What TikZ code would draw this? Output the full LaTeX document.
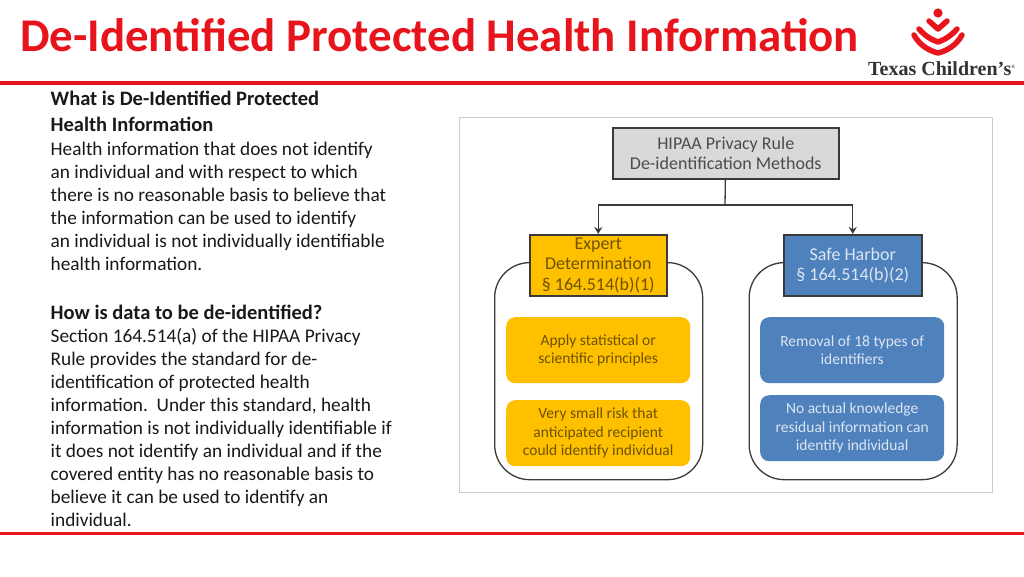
\documentclass[tikz,border=0pt]{standalone}
\usepackage{fontspec}
\setmainfont{Carlito}
\newfontfamily\logofont{Liberation Serif}
\usetikzlibrary{arrows.meta}
\definecolor{hred}{HTML}{E8141C}
\definecolor{hyellow}{HTML}{FFC000}
\definecolor{hblue}{HTML}{4F81BD}
\definecolor{hgrey}{HTML}{D9D9D9}
\definecolor{hline}{HTML}{3A3A3A}
\definecolor{yellowtext}{HTML}{6E5200}
\definecolor{bluetext}{HTML}{DCE6F2}
\newcommand{\headtext}[1]{{\fontsize{20.5}{23}\selectfont\bfseries #1}}
\begin{document}
\begin{tikzpicture}[x=1pt,y=-1pt,
	rule/.style={draw=hred, line width=3.5pt},
	copy/.style={anchor=north west, align=left, inner sep=0pt, font=\fontsize{19.3}{23}\selectfont, text=black!90},
	head/.style={draw=hline, line width=1.5pt, align=center, font=\fontsize{18}{20.5}\selectfont},
	pod/.style={draw=hline, line width=1.3pt, rounded corners=35pt, fill=white, minimum width=208pt, minimum height=217pt, anchor=north west, inner sep=0pt},
	ybox/.style={fill=hyellow, text=yellowtext, rounded corners=9pt, minimum width=184pt, minimum height=66pt, anchor=north west, align=center, inner sep=0pt, font=\fontsize{15.5}{18.5}\selectfont, execute at begin node=\rule{0pt}{15.5pt}},
	bbox/.style={ybox, fill=hblue, text=bluetext},
	conn/.style={draw=hline, line width=1.3pt},
	logo/.style={draw=hred, line width=5.5pt, line cap=round, line join=round}]
	\useasboundingbox (0,0) rectangle (1024,576);
	\fill[white] (0,0) rectangle (1024,576);
	% title
	\node (title) [anchor=west, inner sep=0pt, text=hred, font=\fontsize{46.9}{50}\selectfont\bfseries] at (20,35) {De-Identified Protected Health Information};
	\draw[rule] (0,83) -- (1024,83);
	\draw[rule] (0,533.5) -- (1024,533.5);
	% logo
	\fill[hred] (938,13) circle (4.6pt);
	\draw[logo] (929,21) -- (938,29) -- (947,21);
	\draw[logo] (919,29) .. controls (925,36) and (932,40) .. (938,42) .. controls (944,40) and (951,36) .. (957,29);
	\draw[logo] (914,35) .. controls (920,46) and (930,51) .. (938,53) .. controls (946,51) and (956,46) .. (962,35);
	\node (brand) [anchor=base west, inner sep=0pt, text=black!80, font=\logofont\fontsize{20}{22}\selectfont\bfseries] at (868,75) {Texas Children’s\raisebox{7pt}{\fontsize{5}{5}\selectfont ®}};
	% text column
	\node (what) [copy] at (50.5,91) {\headtext{What is De-Identified Protected}\\[3pt]
		\headtext{Health Information}\\[1pt]
		Health information that does not identify\\
		an individual and with respect to which\\
		there is no reasonable basis to believe that\\
		the information can be used to identify\\
		an individual is not individually identifiable\\
		health information.};
	\node (how) [copy] at (50.5,305) {\headtext{How is data to be de-identified?}\\
		Section 164.514(a) of the HIPAA Privacy\\
		Rule provides the standard for de-\\
		identification of protected health\\
		information.\ \ Under this standard, health\\
		information is not individually identifiable if\\
		it does not identify an individual and if the\\
		covered entity has no reasonable basis to\\
		believe it can be used to identify an\\
		individual.};
	% chart
	\node (frame) [draw=black!20, line width=1pt, fill=white, minimum width=533pt, minimum height=375pt, anchor=north west, inner sep=0pt] at (459,117) {};
	\node (lpod) [pod] at (494,262) {};
	\node (rpod) [pod] at (748.5,262) {};
	\node (top) [head, fill=hgrey, text=black!70, minimum width=226pt, minimum height=51pt, anchor=north west, inner sep=0pt] at (612,127) {HIPAA Privacy Rule\\De-identification Methods};
	\node (expert) [head, fill=hyellow, text=yellowtext, minimum width=137pt, minimum height=61pt, anchor=north west, inner sep=0pt] at (529,234) {Expert\\Determination\\§ 164.514(b)(1)};
	\node (safe) [head, fill=hblue, text=bluetext, minimum width=138pt, minimum height=61pt, anchor=north west, inner sep=0pt] at (783,234) {Safe Harbor\\§ 164.514(b)(2)};
	\coordinate (fork) at (725,205);
	\draw[conn] (top) -- (fork);
	\draw[conn,-{Stealth[length=7pt,width=8pt]}] (fork) -| (expert);
	\draw[conn,-{Stealth[length=7pt,width=8pt]}] (fork) -| (safe);
	\node (apply) [ybox] at (506,317) {Apply statistical or\\scientific principles};
	\node (risk) [ybox] at (506,400) {Very small risk that\\anticipated recipient\\could identify individual};
	\node (removal) [bbox] at (760,317) {Removal of 18 types of\\identifiers};
	\node (know) [bbox] at (760,395) {No actual knowledge\\residual information can\\identify individual};
\end{tikzpicture}
\end{document}
